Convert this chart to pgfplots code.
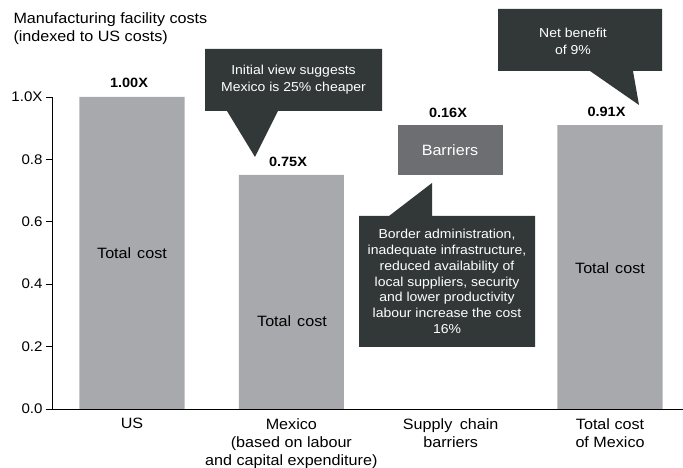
\documentclass[border=0pt]{standalone}
\usepackage{fontspec}
\setmainfont{Liberation Sans}[FakeStretch=1.08]
\usepackage{pgfplots}
\pgfplotsset{compat=1.18}
\definecolor{barg}{HTML}{A7A9AC}
\definecolor{barrier}{HTML}{6D6E71}
\definecolor{callout}{HTML}{323838}
\begin{document}
\begin{tikzpicture}[x=1bp,y=1bp]
\useasboundingbox (-52,-59) rectangle (631,409);
\begin{axis}[
 at={(0,0)}, anchor=south west,
 scale only axis, width=631bp, height=312bp,
 xmin=-0.502, xmax=3.458, ymin=0, ymax=1,
 axis lines*=left,
 axis line style={black, line width=0.8pt},
 ybar stacked, bar width=0.66,
 xtick={0,1,2,3},
 xticklabels={US, Mexico\\(based on labour\\and capital expenditure), Supply\hspace{0.5em}chain\\barriers, Total cost\\of Mexico},
 xticklabel style={align=center, font=\fontsize{15}{18.2}\selectfont, anchor=north, yshift=0bp},
 x tick style={draw=none},
 ytick={0,0.2,0.4,0.6,0.8,1},
 yticklabels={0.0,0.2,0.4,0.6,0.8,1.0X},
 yticklabel style={font=\fontsize{14}{16}\selectfont},
 /pgf/number format/assume math mode=true,
 tick align=outside, major tick length=6bp,
 y tick style={black, line width=0.8pt},
 clip=false,
]
\addplot[fill=barg, draw=none] coordinates {(0,1.00) (1,0.75) (2,0) (3,0.91)};
\addplot[fill=none, draw=none] coordinates {(0,0) (1,0) (2,0.75) (3,0)};
\addplot[fill=barrier, draw=none] coordinates {(0,0) (1,0) (2,0.16) (3,0)};
\end{axis}

% value labels
\node[font=\fontsize{13.5}{16}\selectfont\bfseries] at (77,326) {1.00X};
\node[font=\fontsize{13.5}{16}\selectfont\bfseries] at (236,247) {0.75X};
\node[font=\fontsize{13.5}{16}\selectfont\bfseries] at (396,296) {0.16X};
\node[font=\fontsize{13.5}{16}\selectfont\bfseries] at (554.5,297) {0.91X};
% bar texts
\node[font=\fontsize{15}{18}\selectfont] at (80,156) {Total\hspace{0.4em}cost};
\node[font=\fontsize{15}{18}\selectfont] at (240,88) {Total\hspace{0.4em}cost};
\node[font=\fontsize{15}{18}\selectfont] at (558,141) {Total\hspace{0.4em}cost};
\node[font=\fontsize{15}{18}\selectfont, text=white] at (398,259) {Barriers};

% title
\node[anchor=base west, font=\fontsize{15}{18}\selectfont] at (-42,385) {Manufacturing facility costs};
\node[anchor=base west, font=\fontsize{15}{18}\selectfont] at (-42,367) {(indexed to US costs)};

% callout 1
\fill[callout] (153,360) -- (330,360) -- (330,298) -- (226,298) -- (203,252) -- (175,298) -- (153,298) -- cycle;
\node[text=white, align=center, font=\fontsize{13}{17}\selectfont] at (241.5,329) {Initial view suggests\\Mexico is 25\% cheaper};

% callout 2
\fill[callout] (307,193) -- (337,193) -- (380,226) -- (380,193) -- (483,193) -- (483,62) -- (307,62) -- cycle;
\node[text=white, align=center, font=\fontsize{13}{15.8}\selectfont] at (395,127.5) {Border administration,\\inadequate infrastructure,\\reduced availability of\\local suppliers, security\\and lower productivity\\labour increase the cost\\16\%};

% callout 3
\fill[callout] (446,400) -- (610,400) -- (610,338) -- (581,338) -- (587,304) -- (538,338) -- (446,338) -- cycle;
\node[text=white, align=center, font=\fontsize{13}{17}\selectfont] at (521,368) {Net benefit\\of 9\%};
\end{tikzpicture}
\end{document}
